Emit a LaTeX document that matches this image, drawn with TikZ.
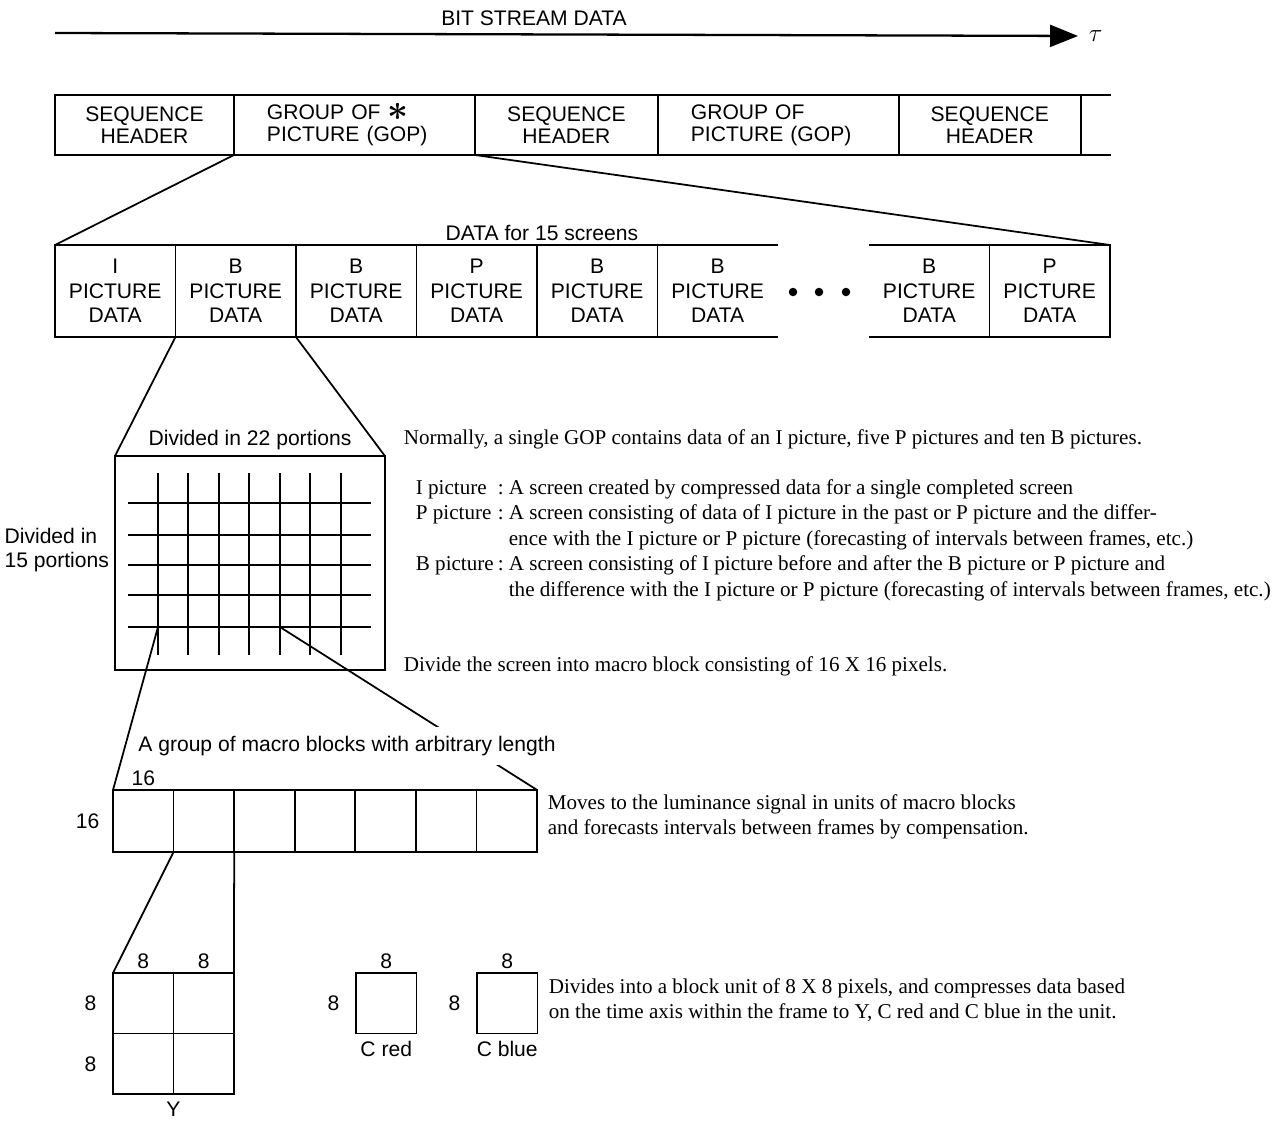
\documentclass[tikz,border=0pt]{standalone}
\usepackage{fontspec}
\setmainfont{Liberation Serif}
\setsansfont{Liberation Sans}
\usetikzlibrary{arrows.meta, positioning}

\begin{document}
\begin{tikzpicture}[
  x=0.02cm, y=-0.02cm,
  line width=1pt,
  hdr/.style={draw, minimum height=1.2cm, inner sep=0pt, outer sep=0pt, align=center,
              font=\sffamily\fontsize{12}{12.5}\selectfont},
  seqhdr/.style={hdr, minimum width=#1},
  gophdr/.style={hdr, align=left, text width=3.5cm, inner xsep=0.66cm},
  picbox/.style={draw, minimum width=2.41cm, minimum height=1.84cm, inner sep=0pt, outer sep=0pt,
                 align=center, font=\sffamily\fontsize{12}{14}\selectfont},
  cell/.style={draw, minimum width=1.21cm, minimum height=1.21cm, inner sep=0pt, outer sep=0pt},
  lbl/.style={font=\sffamily\fontsize{12}{14}\selectfont, inner sep=1pt},
  note/.style={font=\rmfamily\fontsize{12}{14.5}\selectfont, anchor=base west, inner sep=0pt},
  link/.style={line width=1pt},
  bsarrow/.style={-{Triangle[length=0.56cm, width=0.44cm]}, line width=1.3pt}
]
\useasboundingbox (0,0) rectangle (1287,1123);

% Bit stream axis
\coordinate (bsstart) at (55,33);
\node[inner sep=0pt, anchor=west, font=\Large] (tau) at (1088,36) {$\tau$};
\node[lbl] (bsd) at (534,18) {BIT STREAM DATA};
\draw[bsarrow, shorten >=0.2cm] (bsstart) -- (tau.west);

% Sequence layer
\node[seqhdr=3.58cm, anchor=north west] (seq1) at (55,95) {SEQUENCE\\HEADER};
\node[gophdr, right=0pt of seq1] (gop1) {GROUP OF \smash{\raisebox{-1pt}{\boldmath\huge$\ast$}}\\PICTURE (GOP)};
\node[seqhdr=3.66cm, right=0pt of gop1] (seq2) {SEQUENCE\\HEADER};
\node[gophdr, right=0pt of seq2] (gop2) {GROUP OF\\PICTURE (GOP)};
\node[seqhdr=3.64cm, right=0pt of gop2] (seq3) {SEQUENCE\\HEADER};
\node[hdr, draw=none, minimum width=0.6cm, right=0pt of seq3] (tail) {};
\draw[link] (tail.north west) -- (tail.north east) (tail.south west) -- (tail.south east);

% GOP layer (15 pictures)
\node[picbox, anchor=north west] (pic1) at (55,245) {I\\PICTURE\\DATA};
\node[picbox, right=0pt of pic1] (pic2) {B\\PICTURE\\DATA};
\node[picbox, right=0pt of pic2] (pic3) {B\\PICTURE\\DATA};
\node[picbox, right=0pt of pic3] (pic4) {P\\PICTURE\\DATA};
\node[picbox, right=0pt of pic4] (pic5) {B\\PICTURE\\DATA};
\node[picbox, draw=none, right=0pt of pic5] (pic6) {B\\PICTURE\\DATA};
\node[picbox, draw=none, anchor=north west] (pic7) at (869,245) {B\\PICTURE\\DATA};
\node[picbox, right=0pt of pic7] (pic8) {P\\PICTURE\\DATA};
\draw[link] (pic6.north west) -- (pic6.north east) (pic6.south west) -- (pic6.south east);
\draw[link] (pic7.north west) -- (pic7.north east) (pic7.south west) -- (pic7.south east);
\foreach \x in {793,819,846} \fill (\x,292) circle (0.085cm);
\node[lbl, above=1pt of pic4.north east, xshift=0.1cm] (gopdata) {DATA for 15 screens};

% Picture layer (screen split into macro blocks)
\node[draw, minimum width=5.4cm, minimum height=4.28cm, outer sep=0pt, anchor=north west] (screen) at (115,456) {};
\foreach \y in {503,535,565,595,627} \draw[link] (128,\y) -- (371,\y);
\foreach \x in {158,188,219,249,280,310,341} \draw[link] (\x,473) -- (\x,655);
\coordinate (gA) at (158,627);
\coordinate (gB) at (280,627);
\node[lbl, above=2pt of screen] (hdiv) {Divided in 22 portions};
\node[lbl, align=left, anchor=west] (vdiv) at (2,550) {Divided in\\15 portions};

% Slice layer (macro blocks)
\node[cell, minimum width=1.212cm, minimum height=1.24cm, anchor=north west] (mb1) at (113,790) {};
\foreach \i [remember=\i as \j (initially 1)] in {2,...,7}
  \node[cell, minimum width=1.212cm, minimum height=1.24cm, right=0pt of mb\j] (mb\i) {};
\node[lbl, above=1pt of mb1] (mbw) {16};
\node[lbl, left=0.22cm of mb1] (mbh) {16};

% Block layer (Y, C red, C blue)
\node[cell, anchor=north west] (y11) at (113,973) {};
\node[cell, right=0pt of y11] (y12) {};
\node[cell, below=0pt of y11] (y21) {};
\node[cell, right=0pt of y21] (y22) {};
\node[lbl, above=1pt of y11] (yw1) {8};
\node[lbl, above=1pt of y12] (yw2) {8};
\node[lbl, left=0.28cm of y11] (yh1) {8};
\node[lbl, left=0.28cm of y21] (yh2) {8};
\node[lbl, below=3pt of y21.south east] (ylab) {Y};

\node[cell, anchor=north west] (cr) at (356,973) {};
\node[lbl, above=1pt of cr] (crw) {8};
\node[lbl, left=0.28cm of cr] (crh) {8};
\node[lbl, below=3pt of cr] (crlab) {C red};

\node[cell, anchor=north west] (cb) at (477,973) {};
\node[lbl, above=1pt of cb] (cbw) {8};
\node[lbl, left=0.28cm of cb] (cbh) {8};
\node[lbl, below=3pt of cb] (cblab) {C blue};

% Connectors
\draw[link] (gop1.south west) -- (pic1.north west);
\draw[link] (gop1.south east) -- (pic8.north east);
\draw[link] (pic2.south west) -- (screen.north west);
\draw[link] (pic2.south east) -- (screen.north east);
\draw[link] (gA) -- (mb1.north west);
\draw[link] (gB) -- (mb7.north east);
\draw[link] (mb2.south west) -- (y11.north west);
\draw[link] (mb2.south east) -- (y12.north east);
\node[lbl, fill=white, inner xsep=2pt, inner ysep=5pt, anchor=west] (mbgroup) at (134,746)
  {A group of macro blocks with arbitrary length};

% Notes
\node[note] (gopnote) at (403,444) {Normally, a single GOP contains data of an I picture, five P pictures and ten B pictures.};
\node[note] (ilbl) at (415,494) {I picture};
\node[note] (icol) at (497,494) {:};
\node[note] (idef) at (508,494) {A screen created by compressed data for a single completed screen};
\node[note] (plbl) at (415,519) {P picture};
\node[note] (pcol) at (497,519) {:};
\node[note] (pdef1) at (508,519) {A screen consisting of data of I picture in the past or P picture and the differ-};
\node[note] (pdef2) at (508,545) {ence with the I picture or P picture (forecasting of intervals between frames, etc.)};
\node[note] (blbl) at (415,570) {B picture};
\node[note] (bcol) at (497,570) {:};
\node[note] (bdef1) at (508,570) {A screen consisting of I picture before and after the B picture or P picture and};
\node[note] (bdef2) at (508,596) {the difference with the I picture or P picture (forecasting of intervals between frames, etc.)};
\node[note] (scrnote) at (403,671) {Divide the screen into macro block consisting of 16 X 16 pixels.};
\node[note] (mbnote1) at (547,809) {Moves to the luminance signal in units of macro blocks};
\node[note] (mbnote2) at (547,834) {and forecasts intervals between frames by compensation.};
\node[note] (blknote1) at (548,993) {Divides into a block unit of 8 X 8 pixels, and compresses data based};
\node[note] (blknote2) at (548,1018) {on the time axis within the frame to Y, C red and C blue in the unit.};

\end{tikzpicture}
\end{document}
